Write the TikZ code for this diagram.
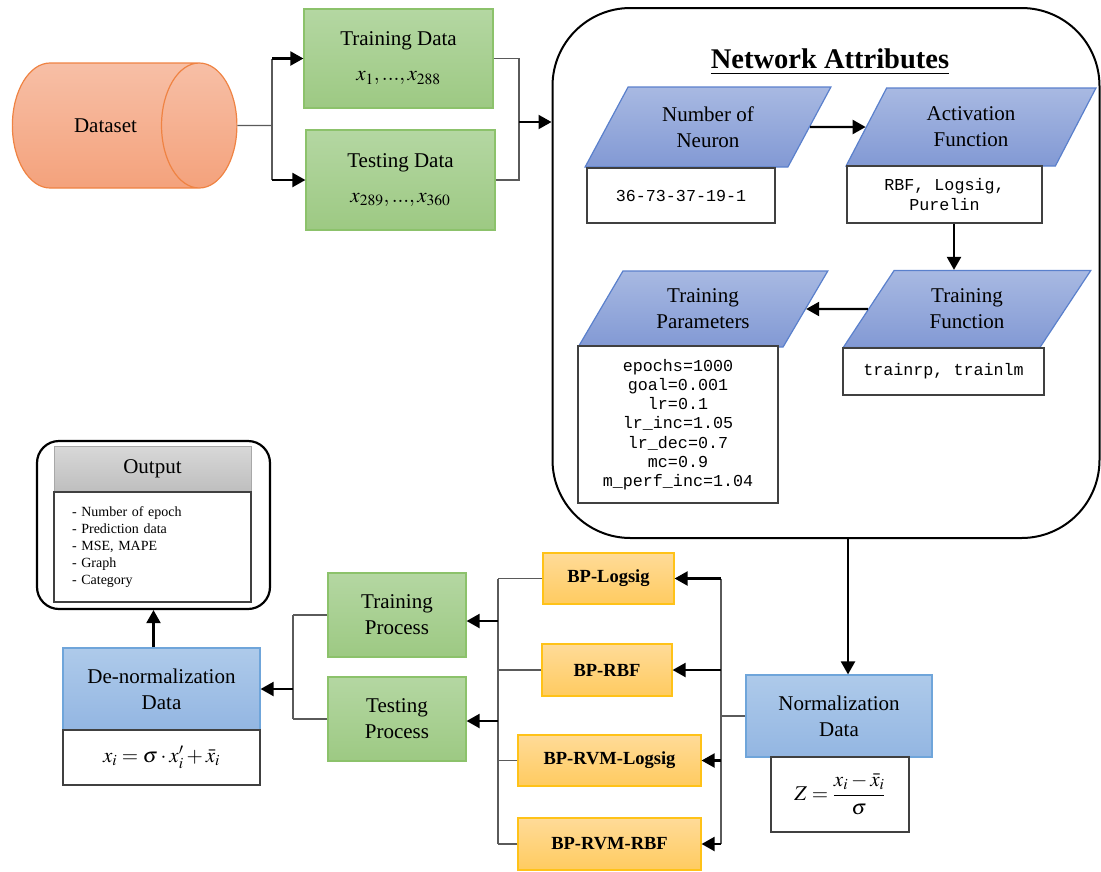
\documentclass[tikz,border=0pt]{standalone}
\usepackage{mathptmx}
\usepackage[no-math]{fontspec}
\setmainfont{Liberation Serif}
\setmonofont{Liberation Mono}
\usetikzlibrary{arrows.meta,shapes.geometric,calc}
\definecolor{orgT}{HTML}{F7BFA6}
\definecolor{orgB}{HTML}{F4A27C}
\definecolor{orgD}{HTML}{EF8343}
\definecolor{grnT}{HTML}{B4D7A2}
\definecolor{grnB}{HTML}{9DC983}
\definecolor{grnD}{HTML}{8CC26B}
\definecolor{pblT}{HTML}{A8B9E2}
\definecolor{pblB}{HTML}{8299D4}
\definecolor{pblD}{HTML}{5A80CC}
\definecolor{lblT}{HTML}{AECAEA}
\definecolor{lblB}{HTML}{93B6E2}
\definecolor{lblD}{HTML}{6FA5DA}
\definecolor{ylwT}{HTML}{FFDB98}
\definecolor{ylwB}{HTML}{FFCB60}
\definecolor{ylwD}{HTML}{FFC218}
\definecolor{gryT}{HTML}{D8D8D8}
\definecolor{gryB}{HTML}{BEBEBE}
\definecolor{gryD}{HTML}{A8A8A8}
\definecolor{feedC}{HTML}{5A5A5A}
\definecolor{wbD}{HTML}{404040}
\begin{document}
\begin{tikzpicture}[x=1pt,y=-1pt,
  every node/.style={inner sep=0pt, align=center, text=black},
  txt/.style={font=\fontsize{21}{26}\selectfont},
  mono/.style={font=\ttfamily\fontsize{16.7}{19.2}\selectfont},
  feed/.style={draw=feedC, line width=1.1pt},
  arr/.style={draw=black, line width=2.2pt, -{Triangle[length=13pt,width=14pt]}},
  wbox/.style={draw=wbD, line width=1.1pt, fill=white, mono},
  gbox/.style={draw=grnD, line width=1.2pt, top color=grnT, bottom color=grnB, txt},
  lbox/.style={draw=lblD, line width=1.2pt, top color=lblT, bottom color=lblB, txt},
  ybox/.style={draw=ylwD, line width=1.2pt, top color=ylwT, bottom color=ylwB, font=\bfseries\fontsize{18.5}{22}\selectfont},
  para/.style={trapezium, trapezium stretches=true, draw=pblD, line width=1.2pt, top color=pblT, bottom color=pblB, txt},
]
\useasboundingbox (0,0) rectangle (1101,871);

% ---------- top left ----------
\node[cylinder, shape border rotate=0, aspect=5.4, minimum height=224.5pt, minimum width=125pt,
      draw=orgD, line width=1.2pt, top color=orgT, bottom color=orgB, txt] (dataset) at (105.5,125.5) {Dataset};
\node[gbox, minimum width=189pt, minimum height=99pt] (train) at (398.5,58.5)
  {Training Data\\[9pt]$x_1,...,x_{288}$};
\node[gbox, minimum width=189pt, minimum height=100pt] (test) at (400.5,180)
  {Testing Data\\[9pt]$x_{289},...,x_{360}$};

\coordinate (j1) at (272,125.5);
\coordinate (j2) at (519,122);
\draw[feed] (dataset.east) -- (j1);
\draw[feed] (j1 |- train.west) -- (j1 |- test.west);
\draw[arr] (j1 |- train.west) -- (train.west);
\draw[arr] (j1 |- test.west) -- (test.west);
\draw[feed] (train.east) -| (j2);
\draw[feed] (test.east) -| (j2);

% ---------- network attributes ----------
\node[draw=black, line width=2pt, rounded corners=78pt, minimum width=547pt, minimum height=530pt] (net) at (826,273) {};
\draw[arr] (j2) -- (j2 -| net.west);
\node[font=\bfseries\fontsize{28.5}{32}\selectfont] (title) at (830,62) {\underline{Network Attributes}};

\node[para, trapezium left angle=59, trapezium right angle=121, minimum width=246pt, minimum height=80pt] (nn) at (708,127) {Number of\\Neuron};
\node[wbox, minimum width=188pt, minimum height=55pt] (nnv) at (681,195.5) {36-73-37-19-1};
\node[para, trapezium left angle=62, trapezium right angle=118, minimum width=250pt, minimum height=78pt] (af) at (971,127) {Activation\\Function};
\node[wbox, minimum width=195pt, minimum height=57pt] (afv) at (944.5,194.5) {RBF, Logsig,\\Purelin};
\node[para, trapezium left angle=57, trapezium right angle=123, minimum width=248pt, minimum height=77pt] (tf) at (967,309) {Training\\Function};
\node[wbox, minimum width=201pt, minimum height=47pt] (tfv) at (943.5,371.5) {trainrp, trainlm};
\node[para, trapezium left angle=57, trapezium right angle=123, minimum width=250pt, minimum height=76pt] (tp) at (703,309) {Training\\Parameters};
\node[wbox, minimum width=200pt, minimum height=157pt] (tpv) at (678,424.5)
  {epochs=1000\\goal=0.001\\lr=0.1\\lr\_inc=1.05\\lr\_dec=0.7\\mc=0.9\\m\_perf\_inc=1.04};

\draw[arr] (nn.east) -- (af.west);
\draw[arr] ([xshift=9.5pt]afv.south) -- ([xshift=9.5pt]afv.south |- tf.north);
\draw[arr] (tf.west) -- (tp.east);

% ---------- normalization ----------
\node[lbox, minimum width=186pt, minimum height=82pt] (norm) at (839,716) {Normalization\\Data};
\node[wbox, minimum width=138pt, minimum height=75pt, font=\fontsize{21}{24}\selectfont] (normv) at (840,794.5)
  {$Z=\displaystyle\frac{x_i-\bar{x}_i}{\sigma}$};
\draw[arr] ([xshift=9pt]norm.north |- net.south) -- ([xshift=9pt]norm.north);

\node[ybox, minimum width=131pt, minimum height=51pt] (bp1) at (608.5,578.5) {BP-Logsig};
\node[ybox, minimum width=130pt, minimum height=52pt] (bp2) at (607,670) {BP-RBF};
\node[ybox, minimum width=183pt, minimum height=51pt] (bp3) at (609.5,760.5) {BP-RVM-Logsig};
\node[ybox, minimum width=183pt, minimum height=52pt] (bp4) at (609.5,844) {BP-RVM-RBF};

\coordinate (j3) at (721,716);
\draw[feed] (norm.west) -- (j3);
\draw[feed] (j3 |- bp1.east) -- (j3 |- bp4.east);
\draw[arr] (j3 |- bp1.east) -- (bp1.east);
\draw[arr] (j3 |- bp2.east) -- (bp2.east);
\draw[arr] (j3 |- bp3.east) -- (bp3.east);
\draw[arr] (j3 |- bp4.east) -- (bp4.east);

% ---------- processes ----------
\node[gbox, minimum width=138pt, minimum height=84pt] (trp) at (397,615) {Training\\Process};
\node[gbox, minimum width=138pt, minimum height=84pt] (tsp) at (397,719) {Testing\\Process};

\coordinate (j4) at (498,700);
\draw[feed] (bp1.west) -- (j4 |- bp1.west);
\draw[feed] (bp2.west) -- (j4 |- bp2.west);
\draw[feed] (bp3.west) -- (j4 |- bp3.west);
\draw[feed] (bp4.west) -- (j4 |- bp4.west);
\draw[feed] (j4 |- bp1.west) -- (j4 |- bp4.west);
\coordinate (j4a) at (498,621);
\coordinate (j4b) at (498,721);
\draw[arr] (j4a) -- (j4a -| trp.east);
\draw[arr] (j4b) -- (j4b -| tsp.east);

% ---------- de-normalization & output ----------
\node[lbox, minimum width=197pt, minimum height=82pt] (denorm) at (161.5,689) {De-normalization\\Data};
\node[wbox, minimum width=197pt, minimum height=55pt, font=\fontsize{21}{24}\selectfont] (denormv) at (161.5,757.5)
  {$x_i=\sigma\cdot x_i^{\prime}+\bar{x}_i$};

\coordinate (j5) at (293,689);
\draw[feed] (trp.west) -- (j5 |- trp.west);
\draw[feed] (tsp.west) -- (j5 |- tsp.west);
\draw[feed] (j5 |- trp.west) -- (j5 |- tsp.west);
\draw[arr] (j5) -- (denorm.east);

\node[draw=black, line width=2.2pt, rounded corners=22pt, minimum width=233pt, minimum height=168pt] (out) at (153.5,525) {};
\node[draw=gryD, line width=1pt, top color=gryT, bottom color=gryB, minimum width=197pt, minimum height=46pt, txt] (outh) at (152.5,469) {Output};
\node[draw=wbD, line width=1.1pt, fill=white, minimum width=197pt, minimum height=110pt, text width=161pt, align=left,
      font=\fontsize{14}{16.8}\selectfont] (outl) at (152.5,547)
  {- Number of epoch\\- Prediction data\\- MSE, MAPE\\- Graph\\- Category};
\draw[arr] (out.south |- denorm.north) -- (out.south);
\end{tikzpicture}
\end{document}
